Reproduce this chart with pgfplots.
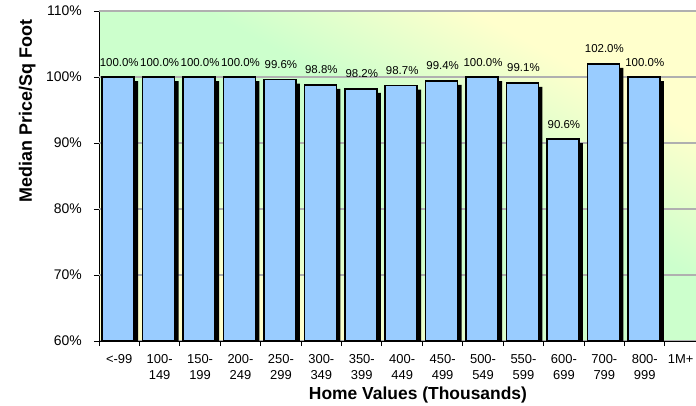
\documentclass[border=0pt]{standalone}
\usepackage{pgfplots}
\usepackage{pgfplotstable}
\pgfplotsset{compat=1.18}
\usepackage{fontspec}
\setmainfont{Liberation Sans}
\definecolor{barblue}{HTML}{99CCFF}
\definecolor{bggreen}{HTML}{CCFFCC}
\definecolor{bgyellow}{HTML}{FFFFCC}
\definecolor{gridgray}{HTML}{B0B0B0}
\pgfdeclareverticalshading{bgshade}{100bp}{color(0bp)=(bgyellow); color(29bp)=(bgyellow); color(44bp)=(bggreen); color(56bp)=(bggreen); color(71bp)=(bgyellow); color(100bp)=(bgyellow)}
\pgfplotstableread{
idx val
0 100.0
1 100.0
2 100.0
3 100.0
4 99.6
5 98.8
6 98.2
7 98.7
8 99.4
9 100.0
10 99.1
11 90.6
12 102.0
13 100.0
}\datatable
\begin{document}
\begin{tikzpicture}
\path[use as bounding box, clip] (0,0) rectangle (696bp,406bp);
\shade[shading=bgshade, shading angle=-28.6]
  (99bp,65bp) rectangle (705.4bp,395bp);
\begin{axis}[
  at={(99bp,65bp)}, anchor=south west,
  scale only axis, width=606.4bp, height=330bp,
  xmin=-0.5, xmax=14.5, ymin=60, ymax=110,
  /pgf/number format/assume math mode=true,
  axis x line*=bottom, axis y line*=left,
  axis line style={-, black, line width=1bp},
  ytick={60,70,...,110},
  yticklabel={\pgfmathprintnumber{\tick}\%},
  yticklabel style={font=\fontsize{14}{16}\selectfont, inner sep=0pt, xshift=-12bp},
  ymajorgrids=true,
  grid style={gridgray, line width=1.3bp},
  tick align=outside, major tick length=5bp,
  tick style={black, line width=1bp},
  xtick pos=bottom, ytick pos=left,
  xtick={-0.5,0.5,...,14.5}, xticklabels={},
  extra x ticks={0,1,...,14},
  extra x tick labels={{<-99},{100-\\149},{150-\\199},{200-\\249},{250-\\299},{300-\\349},{350-\\399},{400-\\449},{450-\\499},{500-\\549},{550-\\599},{600-\\699},{700-\\799},{800-\\999},{1M+\hspace*{9bp}}},
  extra x tick style={major tick length=0pt},
  xticklabel style={font=\fontsize{13}{16.5}\selectfont, align=center, anchor=north, inner sep=0pt, yshift=-13bp},
  xlabel={Home Values (Thousands)},
  xlabel style={font=\fontsize{17.5}{20}\selectfont\bfseries, at={(rel axis cs:0.526,0)}, anchor=base, yshift=-58bp},
  ylabel={Median Price/Sq Foot},
  ylabel style={font=\fontsize{18}{20}\selectfont\bfseries, at={(rel axis cs:0,0.697)}, anchor=base, yshift=67bp},
]
\addplot[gridgray, line width=1.3bp, forget plot] coordinates {(-0.5,70) (14.5,70)};
\addplot[gridgray, line width=1.3bp, forget plot] coordinates {(-0.5,80) (14.5,80)};
\addplot[gridgray, line width=1.3bp, forget plot] coordinates {(-0.5,90) (14.5,90)};
\addplot[gridgray, line width=1.3bp, forget plot] coordinates {(-0.5,100) (14.5,100)};
\addplot[gridgray, line width=2.6bp, forget plot] coordinates {(-0.5,110) (14.5,110)};
\addplot[ybar, bar width=32bp, bar shift=-1bp, fill=black, draw=none, xshift=4bp, yshift=-4bp, forget plot]
  table[x=idx, y=val]{\datatable};
\addplot[ybar, bar width=32bp, bar shift=-1bp, fill=barblue, draw=black, line width=1.5bp,
  nodes near coords={\pgfmathprintnumber[fixed, fixed zerofill, precision=1]{\pgfplotspointmeta}\%},
  nodes near coords style={font=\fontsize{11.5}{13}\selectfont, anchor=base, inner sep=0pt, yshift=11bp, black}]
  table[x=idx, y=val]{\datatable};
\end{axis}
\end{tikzpicture}
\end{document}
